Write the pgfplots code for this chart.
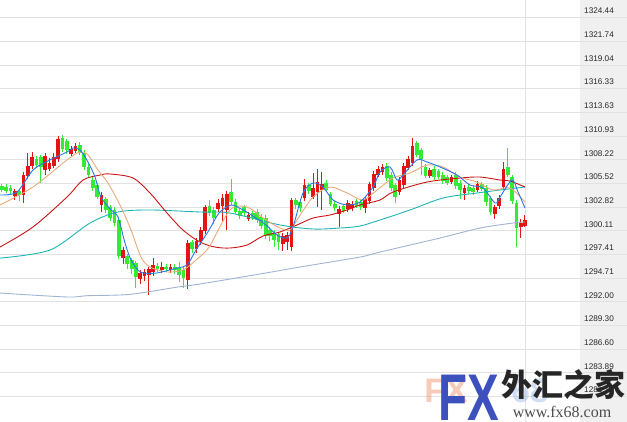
\documentclass[border=0pt]{standalone}
\usepackage{fontspec}
\setmainfont{Liberation Sans}
\newfontfamily\cjk{Noto Sans CJK SC}
\newfontfamily\serifwm{Liberation Serif}
\usepackage{pgfplots}
\usepackage{pgfplotstable}
\pgfplotsset{compat=1.18}

\definecolor{upred}{RGB}{228,20,20}
\definecolor{dngreen}{RGB}{50,235,50}
\definecolor{maBlue}{RGB}{40,120,230}
\definecolor{maTan}{RGB}{232,170,120}
\definecolor{maRed}{RGB}{200,20,20}
\definecolor{maTeal}{RGB}{30,180,180}
\definecolor{maSlate}{RGB}{160,180,210}
\definecolor{gridgray}{RGB}{226,226,226}
\definecolor{panelgray}{RGB}{240,240,240}
\definecolor{labelgray}{RGB}{40,40,40}
\definecolor{wmBlue}{RGB}{60,80,190}
\definecolor{wmOrange}{RGB}{240,140,100}
\definecolor{wmLight}{RGB}{150,180,230}

% i open high low close
\pgfplotstableread{
i o h l c
0 1305.2 1305.5 1304.5 1304.8
1 1305.1 1305.4 1304.4 1304.7
2 1305.0 1305.3 1304.3 1304.6
3 1304.1 1304.9 1303.6 1304.6
4 1304.6 1304.9 1303.5 1304.2
5 1304.2 1306.8 1303.3 1306.5
6 1306.4 1309.0 1306.0 1307.5
7 1307.5 1309.1 1307.2 1308.5
8 1308.3 1308.6 1307.3 1307.6
9 1308.5 1308.8 1305.6 1307.4
10 1307.0 1309.0 1306.5 1308.6
11 1307.2 1308.4 1306.9 1307.9
12 1307.5 1309.0 1307.3 1308.5
13 1308.3 1310.9 1308.0 1310.6
14 1310.7 1311.0 1309.1 1309.4
15 1310.3 1310.6 1308.9 1309.3
16 1308.9 1309.8 1308.6 1309.5
17 1309.2 1310.1 1309.0 1309.8
18 1309.9 1310.2 1308.7 1309.0
19 1309.0 1309.3 1307.1 1307.4
20 1307.4 1307.7 1306.2 1306.5
21 1305.9 1306.2 1304.7 1305.0
22 1305.3 1305.6 1303.7 1304.0
23 1303.1 1304.5 1302.3 1304.2
24 1303.7 1304.0 1302.2 1302.5
25 1302.8 1303.0 1301.2 1301.6
26 1302.5 1302.8 1300.6 1301.0
27 1301.4 1301.7 1296.9 1297.2
28 1297.0 1298.3 1296.3 1297.9
29 1297.2 1297.5 1295.7 1296.3
30 1296.8 1297.0 1295.2 1295.7
31 1296.4 1296.7 1293.6 1294.8
32 1294.6 1295.6 1294.0 1295.3
33 1294.9 1295.8 1294.4 1295.4
34 1295.1 1296.0 1292.8 1295.7
35 1295.4 1297.0 1295.0 1296.2
36 1296.1 1296.4 1295.4 1295.7
37 1295.6 1296.5 1295.3 1296.0
38 1296.0 1296.3 1295.4 1295.7
39 1295.6 1296.3 1295.3 1296.0
40 1296.0 1296.3 1295.2 1295.6
41 1295.9 1296.5 1294.3 1295.1
42 1295.6 1296.0 1293.6 1294.7
43 1294.5 1299.0 1293.5 1298.7
44 1298.8 1299.1 1297.6 1298.0
45 1298.0 1299.3 1297.6 1298.9
46 1298.9 1300.5 1298.5 1300.2
47 1300.1 1303.1 1299.8 1302.8
48 1303.0 1303.6 1301.8 1302.1
49 1302.5 1302.8 1300.9 1301.6
50 1302.6 1303.7 1302.3 1303.3
51 1302.9 1304.3 1301.2 1303.9
52 1302.5 1304.6 1300.2 1304.3
53 1304.5 1306.0 1303.1 1303.4
54 1303.4 1303.7 1302.0 1302.3
55 1302.4 1302.7 1301.4 1301.8
56 1302.8 1303.0 1301.8 1302.2
57 1301.5 1302.2 1301.2 1301.9
58 1302.1 1302.4 1301.3 1301.6
59 1302.3 1302.6 1301.0 1301.3
60 1301.7 1302.0 1300.3 1300.6
61 1301.6 1301.9 1299.2 1299.5
62 1300.2 1300.5 1299.0 1299.5
63 1299.9 1300.2 1298.2 1299.1
64 1299.7 1300.0 1297.9 1298.8
65 1298.6 1299.9 1297.8 1299.5
66 1298.8 1300.0 1297.9 1299.6
67 1298.3 1303.9 1297.8 1303.6
68 1303.6 1303.9 1302.6 1303.0
69 1303.4 1303.7 1302.3 1302.7
70 1303.8 1306.0 1303.5 1305.3
71 1305.3 1305.6 1304.3 1304.6
72 1304.0 1306.7 1303.7 1305.0
73 1304.5 1307.2 1302.8 1305.7
74 1304.8 1306.8 1302.5 1305.5
75 1305.6 1305.9 1304.5 1304.8
76 1304.3 1304.6 1302.9 1303.2
77 1303.2 1303.5 1302.4 1302.7
78 1302.0 1302.9 1300.5 1302.6
79 1302.9 1303.2 1302.1 1302.4
80 1302.6 1303.6 1302.3 1303.3
81 1302.7 1303.5 1302.4 1303.2
82 1303.5 1303.8 1302.7 1303.0
83 1303.4 1303.7 1302.5 1302.8
84 1302.7 1304.0 1302.1 1303.7
85 1303.5 1305.7 1303.2 1305.4
86 1305.0 1306.9 1304.7 1306.6
87 1306.5 1307.5 1306.2 1307.2
88 1306.8 1307.7 1306.5 1307.4
89 1307.5 1307.8 1305.8 1306.1
90 1306.5 1306.8 1304.7 1305.0
91 1305.3 1305.6 1303.3 1304.0
92 1304.5 1306.2 1304.2 1305.9
93 1305.3 1307.8 1305.0 1307.5
94 1307.3 1308.6 1307.0 1308.3
95 1307.8 1310.7 1307.5 1309.8
96 1310.1 1310.4 1308.5 1308.8
97 1309.3 1309.6 1306.5 1308.3
98 1307.4 1307.7 1306.1 1306.4
99 1306.4 1307.3 1306.1 1307.0
100 1307.2 1307.5 1305.9 1306.2
101 1306.9 1307.2 1306.0 1306.3
102 1306.5 1306.8 1305.5 1305.8
103 1306.2 1306.5 1305.3 1305.6
104 1305.7 1306.5 1305.4 1306.2
105 1306.5 1306.8 1304.9 1305.2
106 1305.6 1305.9 1303.7 1304.8
107 1304.4 1305.3 1303.6 1305.0
108 1305.1 1305.4 1304.3 1304.6
109 1305.0 1305.3 1304.2 1304.5
110 1304.8 1305.8 1304.5 1305.5
111 1305.4 1305.7 1304.6 1304.9
112 1305.0 1305.3 1303.0 1303.4
113 1303.8 1304.1 1301.9 1302.2
114 1302.0 1303.1 1301.4 1302.8
115 1302.9 1304.2 1302.6 1303.9
116 1305.1 1308.0 1304.8 1307.2
117 1307.4 1309.6 1306.2 1306.5
118 1306.2 1306.5 1303.2 1303.5
119 1303.3 1303.6 1298.3 1300.4
120 1300.5 1301.5 1299.3 1301.0
121 1300.7 1301.9 1300.5 1301.4
}\candles

\pgfplotsset{
  candle/.style={draw=none, mark=none, forget plot,
    error bars/.cd, y dir=both, y explicit, error mark=none,
    error bar style={#1}},
}

\begin{document}
\begin{tikzpicture}
\path[use as bounding box] (0,0) rectangle (627pt,422pt);
\fill[panelgray] (580pt,0) rectangle (627pt,422pt);
\begin{axis}[
  at={(0,0)}, anchor=south west,
  width=627pt, height=422pt, scale only axis,
  xmin=-0.46, xmax=144.6,
  ymin=1278.28, ymax=1326.45,
  axis line style={draw=none},
  xtick=\empty,
  ytick={1281.19,1283.89,1286.60,1289.30,1292.00,1294.71,1297.41,1300.11,1302.82,1305.52,1308.22,1310.93,1313.63,1316.33,1319.04,1321.74,1324.44},
  yticklabels={1281.19,1283.89,1286.60,1289.30,1292.00,1294.71,1297.41,1300.11,1302.82,1305.52,1308.22,1310.93,1313.63,1316.33,1319.04,1321.74,1324.44},
  yticklabel pos=right,
  yticklabel style={anchor=west, inner sep=0pt, xshift=-43pt, yshift=6.5pt,
    font=\fontsize{8.2}{9}\selectfont, text=labelgray},
  major tick length=0pt,
  tick style={draw=none},
  ymajorgrids, grid style={gridgray, line width=0.7pt},
]
\draw[gridgray, line width=0.7pt] (axis cs:121,1278.28) -- (axis cs:121,1326.45);

% wicks
\addplot[candle={upred, line width=1pt}] table[x=i,
  y expr={\thisrow{c}>=\thisrow{o} ? (\thisrow{h}+\thisrow{l})/2 : nan},
  y error expr={(\thisrow{h}-\thisrow{l})/2}] {\candles};
\addplot[candle={dngreen, line width=1pt}] table[x=i,
  y expr={\thisrow{c}<\thisrow{o} ? (\thisrow{h}+\thisrow{l})/2 : nan},
  y error expr={(\thisrow{h}-\thisrow{l})/2}] {\candles};
% bodies
\addplot[candle={upred, line width=3.7pt}] table[x=i,
  y expr={\thisrow{c}>=\thisrow{o} ? (\thisrow{o}+\thisrow{c})/2 : nan},
  y error expr={max(abs(\thisrow{c}-\thisrow{o})/2,0.08)}] {\candles};
\addplot[candle={dngreen, line width=3.7pt}] table[x=i,
  y expr={\thisrow{c}<\thisrow{o} ? (\thisrow{o}+\thisrow{c})/2 : nan},
  y error expr={max(abs(\thisrow{c}-\thisrow{o})/2,0.08)}] {\candles};

% long average
\addplot[maSlate, line width=0.9pt, smooth] coordinates {
(-0.46,1293.0) (15.04,1292.55) (19.9,1292.7) (29.62,1292.85) (40.72,1293.69)
(45.81,1294.03) (61.08,1295.29) (68.95,1295.97) (82.83,1297.11) (87.46,1297.68)
(101.34,1299.28) (110.6,1300.42) (118.23,1300.99) (121,1301.11)};
% teal
\addplot[maTeal, line width=0.9pt, smooth] coordinates {
(-0.46,1296.99) (11.11,1297.91) (20.36,1300.99) (26.84,1302.25) (34.24,1302.48)
(45.81,1302.25) (52.75,1302.13) (64.32,1300.77) (71.96,1300.31) (78.2,1300.42)
(82.83,1300.65) (87.46,1301.34) (94.4,1302.48) (102.04,1303.85) (109.9,1304.42)
(115.22,1304.76) (121,1305.10)};
% red
\addplot[maRed, line width=0.9pt, smooth] coordinates {
(-0.46,1298.25) (7.17,1300.54) (15.04,1303.96) (18.74,1305.9) (22.67,1306.47)
(24.99,1306.59) (30.31,1306.13) (34.24,1304.42) (38.18,1302.13) (41.88,1300.19)
(45.81,1298.82) (49.28,1298.25) (52.75,1298.14) (56.69,1298.48) (60.39,1299.51)
(64.32,1299.97) (68.26,1300.77) (71.96,1301.56) (75.89,1301.91) (79.82,1302.48)
(82.83,1303.05) (87.46,1303.62) (90.47,1304.53) (98.33,1305.67) (105.97,1306.13)
(110.6,1306.24) (115.22,1305.9) (117.54,1305.79) (121,1305.1)};
% tan
\addplot[maTan, line width=0.9pt, smooth] coordinates {
(-0.46,1303.05) (7.17,1305.10) (15.04,1308.19) (18.05,1309.10) (19.9,1308.76)
(22.21,1307.04) (24.53,1305.56) (27.53,1302.82) (29.85,1300.19) (32.16,1297.11)
(34.24,1295.97) (38.18,1295.40) (41.88,1295.63) (44.89,1296.77) (47.9,1298.25)
(52.75,1302.48) (56.69,1302.82) (60.39,1301.56) (64.32,1300.42) (66.64,1300.19)
(68.26,1301.34) (71.96,1303.96) (75.89,1305.10) (79.82,1304.42) (83.53,1303.62)
(86.77,1304.76) (90.47,1306.13) (94.4,1306.70) (98.33,1307.61) (102.04,1307.39)
(105.97,1306.24) (109.9,1305.67) (113.6,1304.76) (117.54,1304.99) (121,1303.39)};
% blue
\addplot[maBlue, line width=0.9pt, smooth] coordinates {
(-0.46,1304.19) (3.47,1304.53) (7.17,1307.04) (11.11,1308.19) (15.04,1309.10)
(16.43,1309.56) (18.05,1309.33) (19.9,1307.96) (21.52,1306.24) (22.9,1303.96)
(25.22,1302.48) (26.84,1301.68) (28.46,1298.71) (29.85,1296.77) (31.47,1295.63)
(32.62,1295.29) (35.86,1295.29) (40.49,1295.86) (42.8,1296.20) (44.89,1297.91)
(47.9,1300.19) (50.21,1302.13) (52.98,1303.05) (55.76,1302.48) (58.77,1301.56)
(61.08,1300.77) (63.63,1299.62) (65.94,1299.28) (67.33,1300.54) (69.64,1304.42)
(71.96,1305.56) (74.27,1305.10) (76.59,1303.62) (79.82,1303.05) (82.83,1303.39)
(85.84,1305.10) (87.46,1306.82) (89.77,1307.39) (91.39,1305.90) (92.78,1306.47)
(96.02,1308.19) (98.33,1307.96) (101.34,1307.39) (105.28,1306.47) (108.28,1305.33)
(111.29,1304.99) (114.07,1303.28) (115.22,1303.96) (118.0,1305.90) (119.39,1304.53)
(121,1302.71)};
\end{axis}

% watermark
\node[font=\fontsize{34}{34}\selectfont\bfseries, text=wmOrange, opacity=0.45] at (446pt,31pt) {FX};
\node[font=\fontsize{34}{34}\selectfont\bfseries, text=wmLight, opacity=0.45] at (530pt,31pt) {68};
\node[font=\fontsize{66}{66}\selectfont\bfseries, text=wmBlue, inner sep=0pt] at (469pt,24pt) {\scalebox{0.72}[1]{FX}};
\node[font=\cjk\bfseries\fontsize{31}{31}\selectfont, text=black!85, inner sep=0pt] at (563pt,37pt) {外汇之家};
\node[font=\serifwm\fontsize{16}{16}\selectfont, text=black!70, inner sep=0pt] at (562pt,10pt) {www.fx68.com};
\end{tikzpicture}
\end{document}
